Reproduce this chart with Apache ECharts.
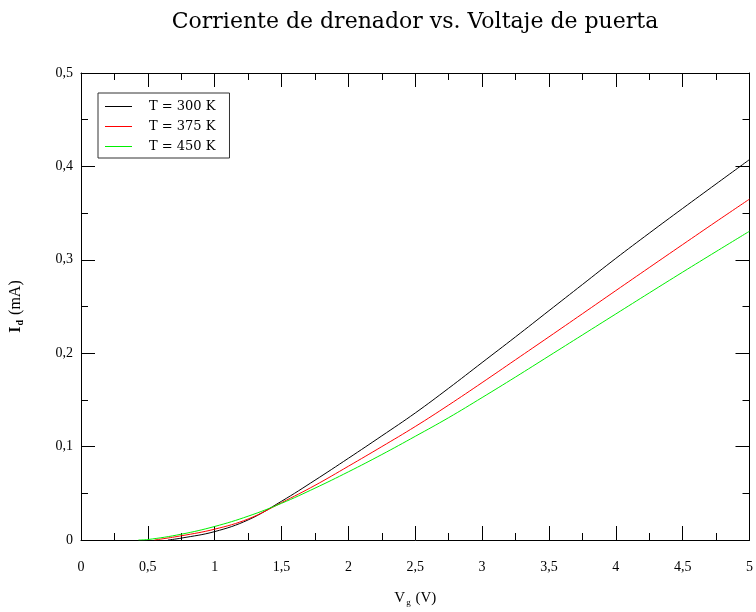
<!DOCTYPE html>
<html>
<head>
<meta charset="utf-8">
<script src="https://cdn.jsdelivr.net/npm/echarts@6/dist/echarts.min.js"></script>
<style>
  html, body { margin: 0; padding: 0; background: #fff; }
  #box { width: 756px; height: 612px; }
</style>
</head>
<body>
<div id="box"></div>
<script>
// datos: Vg (V) e Id (mA) para cada temperatura
var vg300 = [0.65, 0.75, 1, 1.25, 1.5, 1.75, 2, 2.25, 2.5, 2.75, 3, 3.25, 3.5, 3.75, 4, 4.25, 4.5, 4.75, 5];
var id300 = [0, 0.002, 0.009, 0.0215, 0.0415, 0.064, 0.0875, 0.1115, 0.136, 0.1625, 0.19, 0.2175, 0.2455, 0.2735, 0.3015, 0.3285, 0.355, 0.3812, 0.4073];

var vg375 = [0.55, 0.75, 1, 1.25, 1.5, 1.75, 2, 2.25, 2.5, 2.75, 3, 3.25, 3.5, 3.75, 4, 4.25, 4.5, 4.75, 5];
var id375 = [0, 0.0045, 0.0116, 0.0225, 0.040, 0.0585, 0.079, 0.1, 0.1215, 0.1445, 0.1685, 0.193, 0.2175, 0.2422, 0.267, 0.2917, 0.3163, 0.3408, 0.365];

var vg450 = [0.43, 0.5, 0.75, 1, 1.25, 1.5, 1.75, 2, 2.25, 2.5, 2.75, 3, 3.25, 3.5, 3.75, 4, 4.25, 4.5, 4.75, 5];
var id450 = [0, 0.0005, 0.0062, 0.0145, 0.0255, 0.0393, 0.0555, 0.073, 0.0915, 0.111, 0.131, 0.1525, 0.1745, 0.197, 0.2195, 0.242, 0.2645, 0.2868, 0.3088, 0.3306];

var nombres = ['T = 300 K', 'T = 375 K', 'T = 450 K'];
var colores = ['#000000', '#ff0000', '#00ee00'];

function pares(xs, ys) {
    return xs.map(function (x, i) { return [x, ys[i]]; });
}
function coma(v) {
    return String(+v.toFixed(2)).replace('.', ',');
}

var myChart = echarts.init(document.getElementById('box'));

var tick = { show: true, inside: true, length: 14, lineStyle: { color: '#000', width: 1 } };
var minor = { show: true, splitNumber: 2, length: 7, lineStyle: { color: '#000', width: 1 } };
var linea = { show: true, onZero: false, lineStyle: { color: '#000', width: 1 } };
var etiqueta = { fontFamily: 'Liberation Serif', fontSize: 14, color: '#000', formatter: coma };

var option = {
    animation: false,
    backgroundColor: '#fff',
    title: {
        text: 'Corriente de drenador vs. Voltaje de puerta',
        left: 410,
        top: 6,
        textAlign: 'center',
        textStyle: { fontFamily: 'DejaVu Serif', fontSize: 22, fontWeight: 'normal', color: '#000' }
    },
    legend: {
        left: 98,
        top: 93,
        orient: 'vertical',
        icon: 'path://M0,0H27V1H0Z',
        itemWidth: 27,
        itemHeight: 13,
        itemGap: 7,
        padding: [7, 14, 5, 7],
        borderColor: '#333',
        borderWidth: 1,
        textStyle: { fontFamily: 'DejaVu Serif', fontSize: 13, color: '#000', padding: [0, 0, 0, 12] },
        data: nombres
    },
    grid: { left: 78, right: 4, top: 73, bottom: 66 },
    xAxis: [
        {
            type: 'value', min: 0, max: 5, interval: 0.5,
            name: '{v|V}{s|g}{v| (V)}',
            nameLocation: 'middle',
            nameGap: 50,
            nameTextStyle: {
                rich: {
                    v: { fontFamily: 'Liberation Serif', fontSize: 15, color: '#000' },
                    s: { fontFamily: 'Liberation Serif', fontSize: 9, color: '#000', padding: [8, 1, 0, 1] }
                }
            },
            axisLine: linea, axisTick: tick, minorTick: minor,
            axisLabel: Object.assign({ margin: 20 }, etiqueta),
            splitLine: { show: false }
        },
        {
            type: 'value', min: 0, max: 5, interval: 0.5, position: 'top',
            axisLine: linea, axisTick: tick, minorTick: minor,
            axisLabel: { show: false }, splitLine: { show: false }
        }
    ],
    yAxis: [
        {
            type: 'value', min: 0, max: 0.5, interval: 0.1,
            name: '{i|I}{s|d}{n| (mA)}',
            nameLocation: 'middle',
            nameGap: 56,
            nameTextStyle: {
                rich: {
                    i: { fontFamily: 'Liberation Serif', fontSize: 16, fontWeight: 'bold', color: '#000' },
                    s: { fontFamily: 'Liberation Serif', fontSize: 10, fontWeight: 'bold', color: '#000', padding: [8, 1, 0, 1] },
                    n: { fontFamily: 'Liberation Serif', fontSize: 16, color: '#000' }
                }
            },
            axisLine: linea, axisTick: tick, minorTick: minor,
            axisLabel: Object.assign({ margin: 8 }, etiqueta),
            splitLine: { show: false }
        },
        {
            type: 'value', min: 0, max: 0.5, interval: 0.1, position: 'right',
            axisLine: linea, axisTick: tick, minorTick: minor,
            axisLabel: { show: false }, splitLine: { show: false }
        }
    ],
    series: [
        { name: nombres[0], data: pares(vg300, id300) },
        { name: nombres[1], data: pares(vg375, id375) },
        { name: nombres[2], data: pares(vg450, id450) }
    ].map(function (s, i) {
        return Object.assign({
            type: 'line',
            symbol: 'none',
            smooth: 0.4,
            color: colores[i],
            lineStyle: { color: colores[i], width: 1 }
        }, s);
    })
};

myChart.setOption(option);
</script>
</body>
</html>
